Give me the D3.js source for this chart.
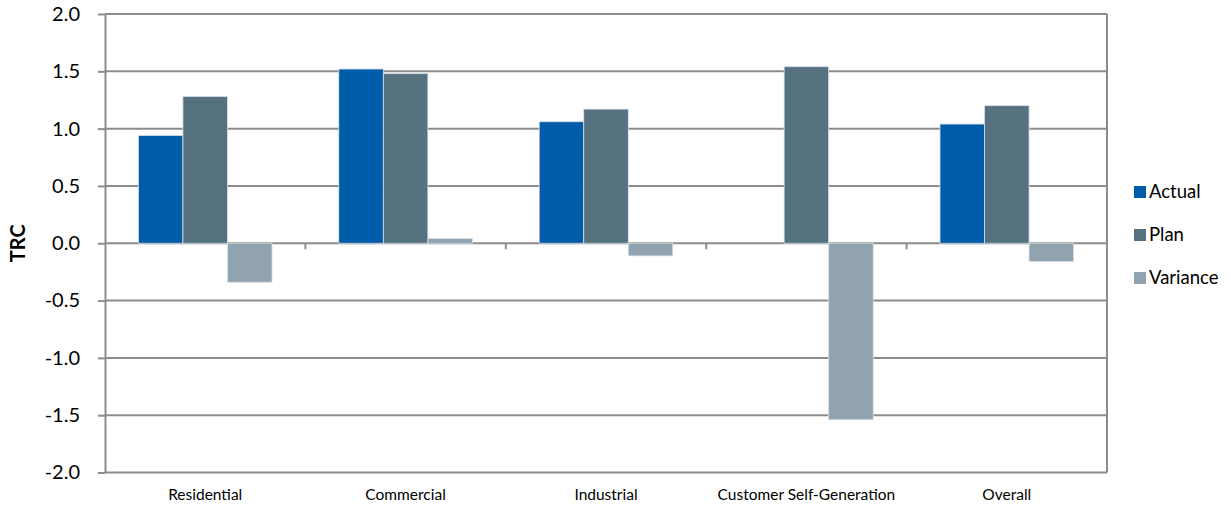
<!DOCTYPE html>
<html><head><meta charset="utf-8">
<script src="https://cdn.jsdelivr.net/npm/d3@7"></script>
<style>body{margin:0;background:#fff}svg{display:block}</style>
</head><body>
<script>
const categories = ["Residential","Commercial","Industrial","Customer Self-Generation","Overall"];
const seriesNames = ["Actual","Plan","Variance"];
const actual = [0.94, 1.52, 1.06, 0, 1.04];
const plan = [1.28, 1.48, 1.17, 1.54, 1.20];
const variance = [-0.34, 0.04, -0.11, -1.54, -0.16];
const yTicks = [-2.0,-1.5,-1.0,-0.5,0.0,0.5,1.0,1.5,2.0];
const colors = ["#005ca8","#56717f","#91a3ae"];

const W=1231,H=506;
const svg=d3.select("body").append("svg").attr("width",W).attr("height",H);
const L=105,R=1107,T=14,B=472.5;
const x=d3.scaleBand().domain(categories).range([L,R]).padding(0);
const y=d3.scaleLinear().domain([-2,2]).range([B,T]);
const xs=d3.scaleBand().domain(seriesNames).range([0,x.bandwidth()]).paddingOuter(0.75).paddingInner(0);
const grid="#8c8c8c";
const font="Lato, 'Open Sans', sans-serif";

// gridlines + y axis
const ya=d3.axisLeft(y).tickValues(yTicks).tickFormat(d=>d.toFixed(1)).tickSize(7).tickSizeOuter(0);
const gy=svg.append("g").attr("transform",`translate(${L},0)`).call(ya);
gy.select(".domain").attr("stroke",grid).attr("stroke-width",2);
gy.selectAll(".tick line").attr("stroke",grid).attr("stroke-width",2);
gy.selectAll(".tick text").attr("font-family",font).attr("font-size",20).attr("fill","#000").attr("x",-25);
svg.append("g").selectAll("line").data(yTicks).join("line")
  .attr("x1",L).attr("x2",R).attr("y1",d=>y(d)).attr("y2",d=>y(d))
  .attr("stroke",grid).attr("stroke-width",2);
svg.append("line").attr("x1",R).attr("x2",R).attr("y1",T).attr("y2",B).attr("stroke",grid).attr("stroke-width",2);

// category ticks at zero line
svg.append("g").selectAll("line").data(categories.slice(1)).join("line")
  .attr("x1",d=>x(d)).attr("x2",d=>x(d)).attr("y1",y(0)).attr("y2",y(0)+6)
  .attr("stroke",grid).attr("stroke-width",2);

// bars
const data=[actual,plan,variance];
seriesNames.forEach((s,si)=>{
  svg.append("g").selectAll("rect").data(categories).join("rect")
    .attr("x",(c)=>x(c)+xs(s))
    .attr("width",xs.bandwidth())
    .attr("y",(c,i)=>y(Math.max(0,data[si][i])))
    .attr("height",(c,i)=>Math.abs(y(data[si][i])-y(0)))
    .attr("fill",colors[si])
    .attr("stroke",(c,i)=>data[si][i]===0?"none":"#d6e0ea").attr("stroke-width",0.8);
});

// category labels
svg.append("g").selectAll("text").data(categories).join("text")
  .attr("x",d=>x(d)+x.bandwidth()/2).attr("y",500)
  .attr("text-anchor","middle").attr("font-family",font).attr("font-size",15.5).attr("fill","#000")
  .text(d=>d);

// y title
svg.append("text").attr("transform",`translate(25,${y(0)}) rotate(-90)`)
  .attr("text-anchor","middle").attr("font-family",font).attr("font-weight","bold").attr("font-size",20)
  .text("TRC");

// legend
const lg=svg.append("g");
seriesNames.forEach((s,i)=>{
  const cy=192+i*43;
  lg.append("rect").attr("x",1134).attr("y",cy-6).attr("width",12).attr("height",12).attr("fill",colors[i]);
  lg.append("text").attr("x",1149).attr("y",cy).attr("dy","0.35em").attr("font-family",font).attr("font-size",18.5).text(s);
});
</script>
</body></html>
